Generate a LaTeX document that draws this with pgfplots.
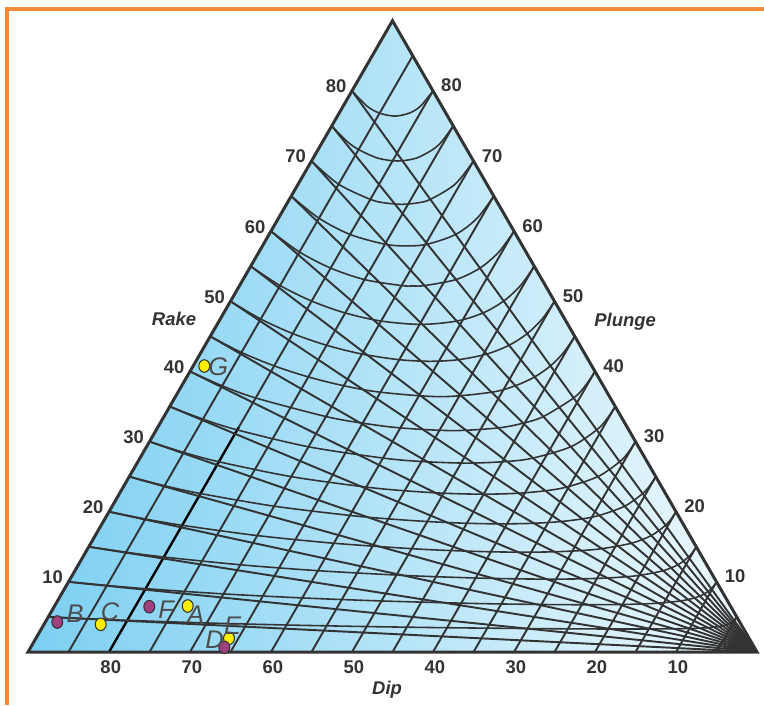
\documentclass[border=0pt]{standalone}
\usepackage{fontspec}
\setmainfont{Liberation Sans}
\usepackage{pgfplots}
\pgfplotsset{compat=1.18}
\definecolor{gridc}{HTML}{333333}
\definecolor{bluel}{HTML}{7CCFF2}
\definecolor{bluer}{HTML}{EEF9FD}
\definecolor{purp}{HTML}{9E3F7E}
\definecolor{yel}{HTML}{FFEE00}
\definecolor{orng}{HTML}{F5883A}
\definecolor{ptl}{HTML}{4D4D4D}
\pgfplotsset{
  gl/.style={draw=gridc, line width=1.1pt, mark=none},
  cv/.style={draw=gridc, line width=0.9pt, mark=none, smooth},
}
\tikzset{
  tl/.style={font=\fontsize{10.5}{12}\selectfont\bfseries, text=gridc, inner sep=0pt},
  tt/.style={font=\fontsize{10.5}{12}\selectfont\bfseries\itshape, text=gridc, inner sep=0pt},
  pl/.style={font=\fontsize{14.5}{16}\selectfont\itshape, text=ptl, inner sep=0pt},
}
\begin{document}
\begin{tikzpicture}
\begin{axis}[
  anchor=origin, at={(0.56cm,1.06cm)},
  x={(0.162cm,0cm)}, y={(0.081cm,0.140296cm)},
  xmin=0, xmax=90, ymin=0, ymax=90,
  hide axis, clip=false,
]
% background
\addplot[draw=none, left color=bluel, right color=bluer] coordinates {(0,0) (90,0) (0,90)} -- cycle;
% dip lines
\addplot[gl] coordinates {(85,0) (85,5)};
\addplot[gl] coordinates {(80,0) (80,10)};
\addplot[gl] coordinates {(75,0) (75,15)};
\addplot[gl] coordinates {(70,0) (70,20)};
\addplot[gl] coordinates {(65,0) (65,25)};
\addplot[gl] coordinates {(60,0) (60,30)};
\addplot[gl] coordinates {(55,0) (55,35)};
\addplot[gl] coordinates {(50,0) (50,40)};
\addplot[gl] coordinates {(45,0) (45,45)};
\addplot[gl] coordinates {(40,0) (40,50)};
\addplot[gl] coordinates {(35,0) (35,55)};
\addplot[gl] coordinates {(30,0) (30,60)};
\addplot[gl] coordinates {(25,0) (25,65)};
\addplot[gl] coordinates {(20,0) (20,70)};
\addplot[gl] coordinates {(15,0) (15,75)};
\addplot[gl] coordinates {(10,0) (10,80)};
\addplot[gl] coordinates {(5,0) (5,85)};
\addplot[draw=black, line width=1.3pt] coordinates {(10,0) (10,32)};
% rake lines
\addplot[gl] coordinates {(0,5) (90,0)};
\addplot[gl] coordinates {(0,10) (90,0)};
\addplot[gl] coordinates {(0,15) (90,0)};
\addplot[gl] coordinates {(0,20) (90,0)};
\addplot[gl] coordinates {(0,25) (90,0)};
\addplot[gl] coordinates {(0,30) (90,0)};
\addplot[gl] coordinates {(0,35) (90,0)};
\addplot[gl] coordinates {(0,40) (90,0)};
\addplot[gl] coordinates {(0,45) (90,0)};
\addplot[gl] coordinates {(0,50) (90,0)};
\addplot[gl] coordinates {(0,55) (90,0)};
\addplot[gl] coordinates {(0,60) (90,0)};
\addplot[gl] coordinates {(0,65) (90,0)};
\addplot[gl] coordinates {(0,70) (90,0)};
\addplot[gl] coordinates {(0,75) (90,0)};
\addplot[gl] coordinates {(0,80) (90,0)};
% plunge curves
\addplot[cv] coordinates {(0,5) (5,4.740) (10,4.513) (20,4.139) (30,3.851) (40,3.629) (50,3.464) (60,3.346) (65,3.306) (70,3.281) (72.83,3.276) (75.236,3.281) (78.098,3.306) (79.961,3.346) (82.207,3.464) (83.467,3.629) (84.224,3.851) (84.678,4.139) (84.923,4.513) (84.981,4.740) (85,5)};
\addplot[cv] coordinates {(0,10) (5,9.481) (10,9.028) (20,8.283) (30,7.711) (40,7.279) (50,6.966) (55,6.853) (60,6.774) (65.372,6.739) (69.677,6.774) (72.377,6.853) (74.326,6.966) (76.898,7.279) (78.433,7.711) (79.351,8.283) (79.844,9.028) (79.961,9.481) (80,10)};
\addplot[cv] coordinates {(0,15) (5,14.222) (10,13.544) (20,12.435) (30,11.593) (40,10.971) (45,10.736) (50,10.553) (55,10.432) (59.419,10.391) (63.176,10.432) (66.255,10.553) (68.528,10.736) (70.253,10.971) (72.610,11.593) (74.012,12.435) (74.763,13.544) (74.941,14.222) (75,15)};
\addplot[cv] coordinates {(0,20) (5,18.964) (10,18.065) (20,16.602) (30,15.508) (40,14.733) (45,14.464) (50,14.288) (54.208,14.234) (57.853,14.288) (61.073,14.464) (63.481,14.733) (66.738,15.508) (68.655,16.602) (69.677,18.065) (69.920,18.964) (70,20)};
\addplot[cv] coordinates {(0,25) (5,23.707) (10,22.590) (20,20.788) (30,19.473) (35,18.981) (40,18.602) (45,18.353) (49.45,18.270) (53.295,18.353) (56.516,18.602) (58.941,18.981) (60.790,19.473) (63.272,20.788) (64.586,22.590) (64.898,23.707) (65,25)};
\addplot[cv] coordinates {(0,30) (5,28.453) (10,27.123) (20,25.003) (30,23.511) (35,22.989) (40,22.637) (45,22.5) (49.253,22.637) (52.381,22.989) (54.734,23.511) (57.853,25.003) (59.487,27.123) (59.873,28.453) (60,30)};
\addplot[cv] coordinates {(0,35) (5,33.201) (10,31.665) (20,29.259) (30,27.652) (35,27.162) (40.767,26.932) (45.554,27.162) (48.522,27.652) (52.381,29.259) (54.377,31.665) (54.846,33.201) (55,35)};
\addplot[cv] coordinates {(0,40) (5,37.952) (10,36.220) (20,33.570) (25,32.626) (30,31.948) (36.701,31.564) (42.078,31.948) (44.826,32.626) (46.839,33.570) (49.253,36.220) (49.815,37.952) (50,40)};
\addplot[cv] coordinates {(0,45) (5,42.709) (10,40.793) (15,39.216) (20,37.962) (25,37.037) (32.763,36.401) (38.718,37.037) (41.192,37.962) (42.941,39.216) (44.108,40.793) (44.779,42.709) (45,45)};
\addplot[cv] coordinates {(0,50) (5,47.471) (10,45.392) (15,43.730) (20,42.475) (25,41.672) (28.926,41.444) (32.300,41.672) (35.389,42.475) (37.524,43.730) (38.934,45.392) (39.736,47.471) (40,50)};
\addplot[cv] coordinates {(0,55) (5,52.244) (10,50.032) (15,48.333) (20,47.182) (25.165,46.707) (29.337,47.182) (32,48.333) (33.714,50.032) (34.683,52.244) (35,55)};
\addplot[cv] coordinates {(0,60) (5,57.030) (10,54.731) (15,53.096) (20,52.239) (21.465,52.189) (22.835,52.239) (26.285,53.096) (28.428,54.731) (29.615,57.030) (30,60)};
\addplot[cv] coordinates {(0,65) (5,61.840) (10,59.528) (15,58.141) (17.82,57.888) (20.231,58.141) (23.031,59.528) (24.522,61.840) (25,65)};
\addplot[cv] coordinates {(0,70) (5,66.693) (10,64.531) (12,64.034) (14.21,63.823) (16.115,64.034) (17.403,64.531) (19.384,66.693) (20,70)};
\addplot[cv] coordinates {(0,75) (3,72.793) (5,71.631) (8,70.407) (10.627,70.001) (12.724,70.407) (14.156,71.631) (14.697,72.793) (15,75)};
\addplot[cv] coordinates {(0,80) (3,77.787) (5,76.824) (7.077,76.402) (8.657,76.824) (9.531,77.787) (10,80)};
% outline
\addplot[draw=gridc, line width=1.7pt, line join=miter] coordinates {(0,0) (90,0) (0,90)} -- cycle;
% points
\addplot[only marks, mark=*, mark size=3.1pt, mark options={fill=yel, draw=gridc, line width=0.6pt, yscale=1.15}] coordinates {(7.001,3.949) (16.437,6.557) (23.838,1.953) (1.38,40.77)};
\addplot[only marks, mark=*, mark size=3.1pt, mark options={fill=purp, draw=gridc, line width=0.6pt, yscale=1.15}] coordinates {(1.479,4.277) (11.746,6.458) (23.9,0.670)};
% tick labels: dip (bottom)
\node[tl, xshift=1pt, yshift=-8.5pt] at (axis cs:10,0) {80};
\node[tl, xshift=1pt, yshift=-8.5pt] at (axis cs:20,0) {70};
\node[tl, xshift=1pt, yshift=-8.5pt] at (axis cs:30,0) {60};
\node[tl, xshift=1pt, yshift=-8.5pt] at (axis cs:40,0) {50};
\node[tl, xshift=1pt, yshift=-8.5pt] at (axis cs:50,0) {40};
\node[tl, xshift=1pt, yshift=-8.5pt] at (axis cs:60,0) {30};
\node[tl, xshift=1pt, yshift=-8.5pt] at (axis cs:70,0) {20};
\node[tl, xshift=1pt, yshift=-8.5pt] at (axis cs:80,0) {10};
% rake (left)
\node[tl, anchor=east, xshift=-3pt, yshift=2.5pt] at (axis cs:0,10) {10};
\node[tl, anchor=east, xshift=-3pt, yshift=2.5pt] at (axis cs:0,20) {20};
\node[tl, anchor=east, xshift=-3pt, yshift=2.5pt] at (axis cs:0,30) {30};
\node[tl, anchor=east, xshift=-3pt, yshift=2.5pt] at (axis cs:0,40) {40};
\node[tl, anchor=east, xshift=-3pt, yshift=2.5pt] at (axis cs:0,50) {50};
\node[tl, anchor=east, xshift=-3pt, yshift=2.5pt] at (axis cs:0,60) {60};
\node[tl, anchor=east, xshift=-3pt, yshift=2.5pt] at (axis cs:0,70) {70};
\node[tl, anchor=east, xshift=-3pt, yshift=2.5pt] at (axis cs:0,80) {80};
% plunge (right)
\node[tl, anchor=west, xshift=4.5pt, yshift=3pt] at (axis cs:80,10) {10};
\node[tl, anchor=west, xshift=4.5pt, yshift=3pt] at (axis cs:70,20) {20};
\node[tl, anchor=west, xshift=4.5pt, yshift=3pt] at (axis cs:60,30) {30};
\node[tl, anchor=west, xshift=4.5pt, yshift=3pt] at (axis cs:50,40) {40};
\node[tl, anchor=west, xshift=4.5pt, yshift=3pt] at (axis cs:40,50) {50};
\node[tl, anchor=west, xshift=4.5pt, yshift=3pt] at (axis cs:30,60) {60};
\node[tl, anchor=west, xshift=4.5pt, yshift=3pt] at (axis cs:20,70) {70};
\node[tl, anchor=west, xshift=4.5pt, yshift=3pt] at (axis cs:10,80) {80};
\end{axis}
\begin{scope}[x=0.02cm, y=-0.02cm, yshift=14.1cm]
\draw[orng, line width=2pt, line join=miter] (764,9) -- (7,9) -- (7,705);
\node[tt] at (174,318.5) {Rake};
\node[tt] at (625,322) {Plunge};
\node[tt] at (387,690) {Dip};
\node[pl] at (75,613.5) {B};
\node[pl] at (110,611.5) {C};
\node[pl] at (166,610) {F};
\node[pl] at (195.5,615) {A};
\node[pl] at (232.5,625.5) {E};
\node[pl] at (214.5,639.5) {D};
\node[pl] at (218.3,366.3) {G};
\end{scope}
\pgfresetboundingbox
\path (0,0) rectangle (15.28cm,14.1cm);
\end{tikzpicture}
\end{document}
